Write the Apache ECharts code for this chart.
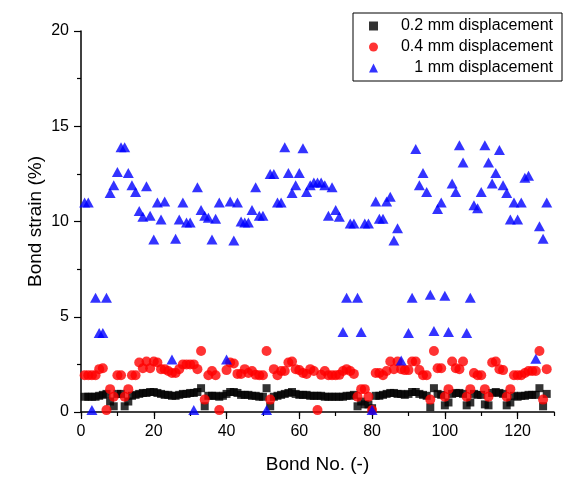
<!DOCTYPE html>
<html>
<head>
<meta charset="utf-8">
<script src="https://cdn.jsdelivr.net/npm/echarts@6/dist/echarts.min.js"></script>
<style>
html,body{margin:0;padding:0;background:#fff;}
#c{width:564px;height:482px;}
</style>
</head>
<body>
<div id="c"></div>
<script>
// Bond numbers 1..128 (x positions)
const firstBond = 1;
const seriesNames = ['0.2 mm displacement', '0.4 mm displacement', '1 mm displacement'];
const xTicks = [0, 20, 40, 60, 80, 100, 120];
const yTicks = [0, 5, 10, 15, 20];

// Bond strain (%) for 0.2 mm displacement
const strain02 = [0.8,0.8,0.8,0.8,0.85,0.9,0.95,0.55,0.3,0.95,
0.95,0.3,0.55,0.85,0.9,0.95,1.0,1.0,1.05,1.05,
1.0,0.95,0.9,0.9,0.85,0.85,0.9,0.95,0.95,1.0,
1.0,1.05,1.25,0.3,0.85,0.85,0.85,0.8,0.85,0.95,
1.05,1.05,1.0,0.9,0.9,0.9,0.85,0.85,0.8,0.8,
1.25,0.3,0.8,0.85,0.9,0.95,1.0,1.05,0.95,0.9,
0.9,0.9,0.85,0.85,0.85,0.85,0.8,0.8,0.8,0.8,
0.8,0.8,0.85,0.85,0.9,0.3,0.55,0.4,0.4,0.2,
0.85,0.85,0.9,0.95,1.0,1.0,0.95,0.95,0.9,0.95,
1.05,1.05,0.95,0.9,0.85,0.25,1.25,0.95,0.9,0.35,
0.5,0.95,1.0,1.0,0.95,0.35,0.5,0.95,0.9,0.9,
0.4,0.35,1.0,1.05,1.0,0.95,0.35,0.5,0.85,0.8,
0.85,0.85,0.9,0.9,0.9,1.25,0.3,0.95];

// Bond strain (%) for 0.4 mm displacement
const strain04 = [1.93,1.93,1.93,1.93,2.25,2.3,0.1,1.2,0.8,1.93,
1.93,0.8,1.2,1.93,1.93,2.6,2.3,2.65,2.3,2.65,
2.6,2.25,2.25,2.15,2.05,2.05,2.25,2.5,2.5,2.5,
2.5,2.25,3.2,0.65,1.93,2.15,1.93,0.1,null,2.2,
2.6,2.55,2.0,2.0,2.25,2.05,2.15,1.95,1.93,1.93,
3.2,0.65,2.25,1.93,2.15,2.15,2.6,2.65,2.25,2.2,
2.05,2.0,2.25,2.15,0.1,1.95,2.15,1.93,1.93,1.93,
1.95,2.15,2.25,2.15,2.0,0.8,1.2,1.2,0.8,0.1,
2.05,2.05,1.93,2.15,2.65,2.25,2.65,2.25,2.2,2.2,
2.65,2.65,2.2,1.93,1.93,0.65,3.2,2.3,2.3,0.8,
1.2,2.65,2.3,2.25,2.65,0.8,1.2,2.05,1.93,1.93,
1.2,0.8,2.6,2.65,2.25,2.2,0.8,1.2,1.93,1.93,
1.93,2.05,2.15,2.15,2.15,3.2,0.65,2.25];

// Bond strain (%) for 1 mm displacement
const strain1 = [11.0,11.0,0.1,6.0,4.15,4.15,6.0,11.5,11.9,12.6,
13.9,13.9,12.55,11.9,11.55,10.55,10.25,11.85,10.3,9.05,
11.0,10.1,11.05,null,2.75,9.1,10.1,11.0,9.95,9.95,
0.1,11.8,10.6,10.3,10.2,9.05,10.15,11.0,null,2.75,
11.05,9.0,11.0,10.0,9.95,9.95,10.6,11.8,10.3,10.3,
0.1,12.5,12.5,11.0,11.0,13.9,12.55,11.5,11.9,12.55,
13.85,11.55,11.9,12.05,12.05,12.05,11.9,10.3,11.8,10.6,
10.25,4.2,6.0,9.9,9.9,6.0,4.2,9.9,9.9,0.1,
11.05,10.15,10.15,11.05,11.3,9.0,9.65,2.7,null,4.15,
6.0,13.8,11.9,12.55,11.55,6.15,4.25,10.65,11.0,6.1,
4.2,12.0,11.55,14.0,13.1,4.15,6.0,10.85,10.7,11.55,
14.0,13.1,12.0,12.55,13.75,11.9,11.5,10.1,11.0,10.1,
11.0,12.3,12.4,null,2.8,9.75,9.1,11.0];

function pairs(vals) {
  return vals.map((v, i) => [firstBond + i, v]);
}

const FONT = '"Liberation Sans", Arial, sans-serif';
const chart = echarts.init(document.getElementById('c'), null, {renderer: 'canvas'});

const axisText = {color: '#000', fontFamily: FONT, fontSize: 16};

chart.setOption({
  backgroundColor: '#fff',
  animation: false,
  grid: {left: 81, top: 31, width: 473, height: 381, containLabel: false},
  legend: {
    orient: 'vertical',
    left: 353,
    top: 13,
    padding: [4, 9, 4, 16],
    itemWidth: 9,
    itemHeight: 9,
    itemGap: 3,
    borderColor: '#000',
    borderWidth: 1,
    backgroundColor: '#fff',
    data: seriesNames,
    formatter: name => '{t|' + name + '}',
    textStyle: {
      lineHeight: 18,
      rich: {t: {width: 170, align: 'right', fontFamily: FONT, fontSize: 16, color: '#000', lineHeight: 18}}
    }
  },
  xAxis: [{
    type: 'value', min: 0, max: 130, interval: 20,
    position: 'bottom',
    name: 'Bond No. (-)', nameLocation: 'middle', nameGap: 43, nameMoveOverlap: false,
    nameTextStyle: {color: '#000', fontFamily: FONT, fontSize: 19},
    axisLine: {show: true, onZero: false, lineStyle: {color: '#000', width: 1.5}},
    axisTick: {show: true, length: 7, inside: false, lineStyle: {color: '#000', width: 1.2}, customValues: xTicks},
    axisLabel: Object.assign({margin: 12, customValues: xTicks}, axisText),
    splitLine: {show: false}
  }, {
    type: 'value', min: 0, max: 130, interval: 10,
    position: 'bottom',
    axisLine: {show: false},
    axisTick: {show: true, length: 4, lineStyle: {color: '#000', width: 1.2}},
    axisLabel: {show: false},
    splitLine: {show: false}
  }],
  yAxis: {
    type: 'value', min: 0, max: 20, interval: 5,
    name: 'Bond strain (%)', nameLocation: 'middle', nameGap: 36, nameMoveOverlap: false,
    nameTextStyle: {color: '#000', fontFamily: FONT, fontSize: 19},
    axisLine: {show: true, onZero: false, lineStyle: {color: '#000', width: 1.5}},
    axisTick: {show: true, length: 7, lineStyle: {color: '#000', width: 1.2}},
    minorTick: {show: true, splitNumber: 2, length: 4, lineStyle: {color: '#000', width: 1.2}},
    axisLabel: Object.assign({margin: 12, customValues: yTicks}, axisText),
    splitLine: {show: false}
  },
  series: [{
    name: seriesNames[0], type: 'scatter', symbol: 'rect', symbolSize: 8,
    itemStyle: {color: '#000'}, data: pairs(strain02), z: 2
  }, {
    name: seriesNames[1], type: 'scatter', symbol: 'circle', symbolSize: 10,
    itemStyle: {color: '#ff0000'}, data: pairs(strain04), z: 3
  }, {
    name: seriesNames[2], type: 'scatter', symbol: 'triangle', symbolSize: [11, 10],
    itemStyle: {color: '#0000ff'}, data: pairs(strain1), z: 4
  }]
});
</script>
</body>
</html>
